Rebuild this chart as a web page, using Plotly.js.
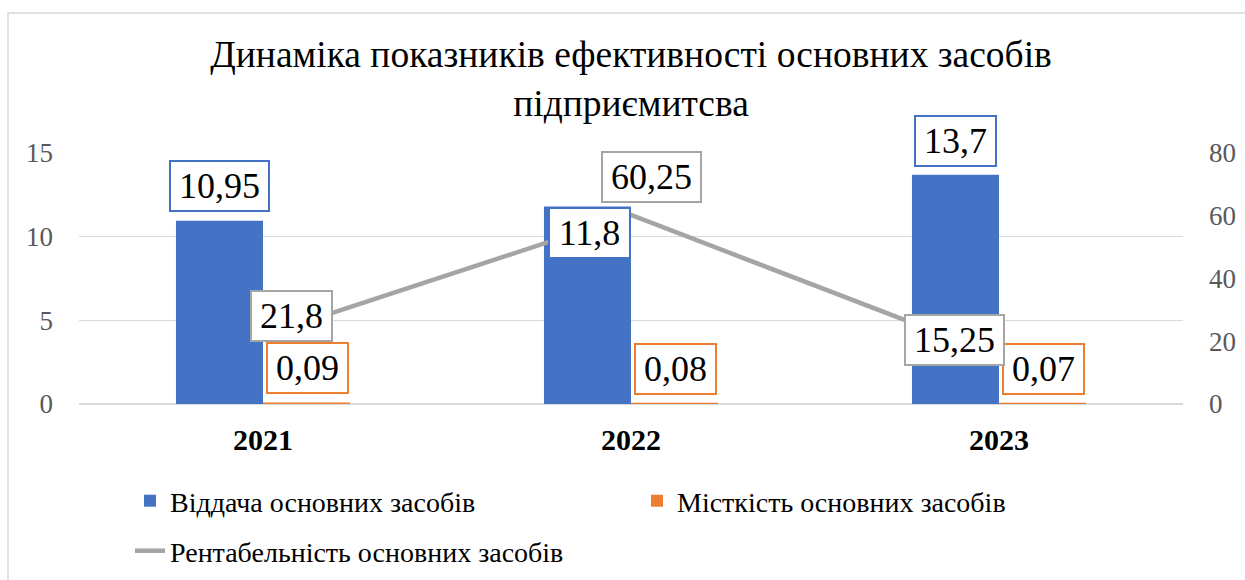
<!DOCTYPE html>
<html>
<head>
<meta charset="utf-8">
<script src="https://cdn.plot.ly/plotly-3.0.1.min.js"></script>
<style>html,body{margin:0;padding:0;background:#fff;}#chart{width:1245px;height:580px;}</style>
</head>
<body>
<div id="chart"></div>
<script>
// ---- data ----
const years = ['2021', '2022', '2023'];
const vidacha = [10.95, 11.8, 13.7];       // Віддача основних засобів
const mistkist = [0.09, 0.08, 0.07];       // Місткість основних засобів
const rentab = [21.8, 60.25, 15.25];       // Рентабельність основних засобів
const seriesNames = ['Віддача основних засобів', 'Місткість основних засобів', 'Рентабельність основних засобів'];
const titleText = 'Динаміка показників ефективності основних засобів<br>підприємитсва';

// ---- style ----
const FONT = 'Liberation Serif';
const BLUE = '#4472C4', ORANGE = '#ED7D31', GRAY = '#A5A5A5';
const LBL = 36;
// label offsets (px): [xshift, yshift, yanchor]
const blueOff = [[-44, 9, 'bottom'], [-42, 0, 'top'], [-44, 8, 'bottom']];
const orangeOff = [[44, 8, 'bottom'], [44, 8, 'bottom'], [44, 8, 'bottom']];
const grayOff = [[28, 20, 'middle'], [20, 38, 'middle'], [-45, 16, 'middle']];

function fmt(v) { return String(v).replace('.', ','); }
function txtW(s) {
  let w = 0;
  for (const c of s) w += (c === ',' ? 0.25 : 0.5);
  return Math.round(w * LBL + 8);
}

const traces = [
  { type: 'bar', name: seriesNames[0], x: years, y: vidacha, marker: { color: BLUE }, legend: 'legend', hoverinfo: 'skip' },
  { type: 'bar', name: seriesNames[1], x: years, y: mistkist, marker: { color: ORANGE }, legend: 'legend', hoverinfo: 'skip' },
  { type: 'scatter', mode: 'lines', name: seriesNames[2], x: years, y: rentab, yaxis: 'y2',
    line: { color: GRAY, width: 4.5 }, legend: 'legend2', hoverinfo: 'skip' }
];

const annotations = [];
function addLabels(vals, yref, color, offs) {
  vals.forEach((v, i) => {
    const t = fmt(v);
    annotations.push({
      x: i, y: v, xref: 'x', yref: yref, text: t, showarrow: false,   // x = category index
      xanchor: 'center', yanchor: offs[i][2], xshift: offs[i][0], yshift: offs[i][1],
      font: { family: FONT, size: LBL, color: '#000' },
      bgcolor: '#fff', bordercolor: color, borderwidth: 2, borderpad: 4, width: txtW(t)
    });
  });
}
addLabels(vidacha, 'y', BLUE, blueOff);
addLabels(mistkist, 'y', ORANGE, orangeOff);
addLabels(rentab, 'y2', GRAY, grayOff);

const LEGX = (130 - 79) / 1104;
const layout = {
  width: 1245, height: 580,
  margin: { l: 79, r: 62, t: 153, b: 176, pad: 0, autoexpand: false },
  paper_bgcolor: '#fff', plot_bgcolor: '#fff',
  font: { family: FONT, color: '#000' },
  title: { text: titleText, font: { family: FONT, size: 37.5, color: '#000' },
           x: 0.5, xanchor: 'center', xref: 'paper', y: 1 - 67 / 580, yanchor: 'middle', yref: 'container' },
  barmode: 'group', bargap: 0.527, bargroupgap: 0,
  xaxis: { type: 'category', range: [-0.5, 2.5], autorange: false, showgrid: false, showline: false, zeroline: false, ticks: '',
           tickfont: { family: FONT, size: 30, color: '#000', weight: 'bold' }, ticklabelstandoff: 15 },
  yaxis: { range: [0, 15], dtick: 5, tick0: 0, showgrid: true, gridcolor: '#D9D9D9', gridwidth: 1.3,
           zeroline: true, zerolinecolor: '#D9D9D9', zerolinewidth: 1.3, showline: false, ticks: '',
           tickfont: { family: FONT, size: 27, color: '#595959' }, ticklabelstandoff: 25 },
  yaxis2: { range: [0, 80], dtick: 20, tick0: 0, overlaying: 'y', side: 'right', showgrid: false,
            zeroline: false, showline: false, ticks: '',
            tickfont: { family: FONT, size: 27, color: '#595959' }, ticklabelstandoff: 25 },
  showlegend: true,
  legend: { orientation: 'h', x: LEGX, xanchor: 'left', y: (404 - 501) / 251, yanchor: 'middle',
            font: { family: FONT, size: 28, color: '#000' }, entrywidth: 462, entrywidthmode: 'pixels',
            bgcolor: 'rgba(0,0,0,0)', traceorder: 'normal' },
  legend2: { orientation: 'h', x: LEGX, xanchor: 'left', y: (404 - 551) / 251, yanchor: 'middle',
             font: { family: FONT, size: 28, color: '#000' }, bgcolor: 'rgba(0,0,0,0)' },
  shapes: [{ type: 'rect', xref: 'paper', yref: 'paper', x0: (8 - 79) / 1104, x1: 1.3, y0: -1.2, y1: (404 - 13) / 251,
             line: { color: '#D9D9D9', width: 1.5 }, fillcolor: 'rgba(0,0,0,0)', layer: 'below' }],
  annotations: annotations
};

Plotly.newPlot('chart', traces, layout, { staticPlot: true, displayModeBar: false });
</script>
</body>
</html>
